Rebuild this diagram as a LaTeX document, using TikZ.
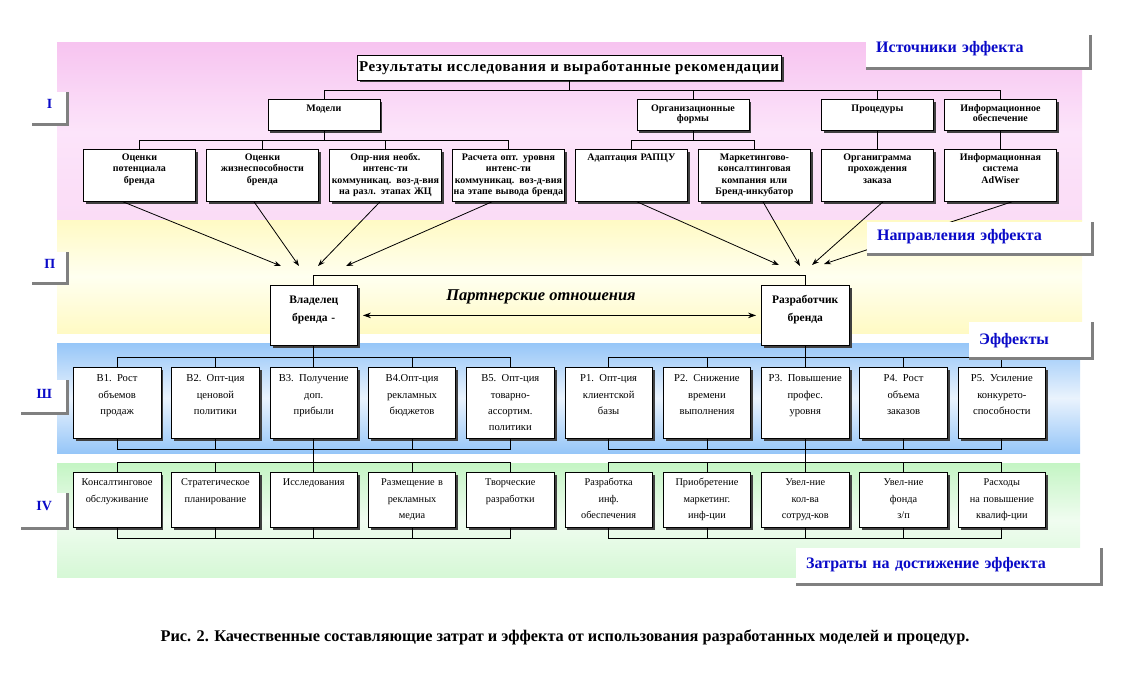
\documentclass[tikz,border=0pt]{standalone}
\usepackage{fontspec}
\setmainfont{Liberation Serif}
\usetikzlibrary{shadows,arrows.meta}
\definecolor{labblue}{RGB}{10,10,200}
\definecolor{pinkA}{RGB}{247,196,240}
\definecolor{pinkB}{RGB}{252,228,250}
\definecolor{yelA}{RGB}{255,250,196}
\definecolor{yelB}{RGB}{255,255,240}
\definecolor{bluA}{RGB}{150,198,248}
\definecolor{bluB}{RGB}{234,243,253}
\definecolor{grnA}{RGB}{196,245,196}
\definecolor{grnB}{RGB}{240,252,240}
\definecolor{shgray}{RGB}{128,128,128}
\tikzset{
  box/.style={draw=black, line width=0.8pt, fill=white,
    drop shadow={shadow xshift=2.5pt, shadow yshift=-2.5pt, fill=black!75, opacity=1},
    anchor=north west, inner xsep=-8pt, inner ysep=0pt, align=center},
  lvtwo/.style={box, text width=128pt, text height=12pt, text depth=19pt,
    font=\fontsize{10}{10.5}\selectfont\bfseries},
  lvthree/.style={box, text width=128pt, text height=11pt, text depth=41pt,
    font=\fontsize{10}{11.3}\selectfont\bfseries},
  actor/.style={box, text width=103.5pt, text height=18pt, text depth=42pt,
    font=\fontsize{11.5}{18}\selectfont\bfseries},
  eff/.style={box, text width=103.5pt, text height=14.5pt, text depth=56.5pt,
    font=\fontsize{10.6}{16.3}\selectfont},
  cost/.style={box, text width=103.5pt, text height=13.5pt, text depth=41.5pt,
    font=\fontsize{10.3}{16.5}\selectfont},
  link/.style={line width=0.8pt, black},
  arr/.style={line width=0.8pt, black, -{Stealth[length=7pt,width=5pt]}},
  dbl/.style={line width=0.8pt, black, {Stealth[length=8pt,width=5.5pt]}-{Stealth[length=8pt,width=5.5pt]}},
  rlab/.style={fill=white, anchor=north west, inner xsep=10pt, inner ysep=0pt,
    align=left, text=labblue, font=\fontsize{16}{18}\selectfont\bfseries},
  llab/.style={fill=white, anchor=north west, inner sep=0pt, align=center,
    text=labblue, font=\fontsize{14}{16}\selectfont\bfseries},
  labsh/.style={draw=shgray, line width=2.5pt}
}
\begin{document}
\begin{tikzpicture}[x=1pt,y=-1pt]
\useasboundingbox (0,0) rectangle (1122,685);
% bands
\path[top color=pinkA, bottom color=pinkA!60!white, middle color=pinkB] (57,43) rectangle (1082,220);
\path[top color=yelA, bottom color=yelA, middle color=yelB] (57,220) rectangle (1082,333);
\path[top color=bluA, bottom color=bluA, middle color=bluB] (57,343) rectangle (1080,453);
\path[top color=grnA, bottom color=grnA!70!white, middle color=grnB] (57,463) rectangle (1080,577);

% arrow targets
\coordinate (t1) at (281,266);
\coordinate (t2) at (299,266);
\coordinate (t3) at (318,266);
\coordinate (t4) at (346,266);
\coordinate (t5) at (779,265);
\coordinate (t6) at (800,266);
\coordinate (t7) at (812,265);
\coordinate (t8) at (824,264);

% title and level 2
\node[box, anchor=center, inner xsep=0pt, minimum width=424pt, minimum height=25pt, text height=11pt, text depth=3pt,
  font=\fontsize{15}{18}\selectfont\bfseries\addfontfeature{LetterSpace=4}] (title) at (569,67.5)
  {Результаты исследования и выработанные рекомендации};
\node[lvtwo] (m) at (267.5,99) {Модели};
\node[lvtwo] (org) at (636.5,99) {Организационные\\формы};
\node[lvtwo] (proc) at (821,99) {Процедуры};
\node[lvtwo] (inf) at (944,99) {Информационное\\обеспечение};

% level 3
\node[lvthree] (a1) at (83,149) {Оценки\\потенциала\\бренда};
\node[lvthree] (a2) at (206,149) {Оценки\\жизнеспособности\\бренда};
\node[lvthree] (a3) at (329,149) {Опр-ния необх.\\интенс-ти\\коммуникац. воз-д-вия\\на разл. этапах ЖЦ};
\node[lvthree] (a4) at (452,149) {Расчета опт. уровня\\интенс-ти\\коммуникац. воз-д-вия\\на этапе вывода бренда};
\node[lvthree] (a5) at (575,149) {Адаптация РАПЦУ};
\node[lvthree] (a6) at (698,149) {Маркетингово-\\консалтинговая\\компания или\\Бренд-инкубатор};
\node[lvthree] (a7) at (821,149) {Органиграмма\\прохождения\\заказа};
\node[lvthree] (a8) at (944,149) {Информационная\\система\\AdWiser};

% connectors top
\draw[link] (title.south) -- ++(0,10) coordinate (tj);
\draw[link] (m.north) -- (m.north |- tj) -- (inf.north |- tj) -- (inf.north);
\draw[link] (org.north) -- (org.north |- tj);
\draw[link] (proc.north) -- (proc.north |- tj);
\coordinate (j2) at (0,140);
\draw[link] (m.south) -- (m.south |- j2);
\draw[link] (a1.north) -- (a1.north |- j2) -- (a4.north |- j2) -- (a4.north);
\draw[link] (a2.north) -- (a2.north |- j2);
\draw[link] (a3.north) -- (a3.north |- j2);
\draw[link] (org.south) -- (org.south |- j2);
\draw[link] (a5.north) -- (a5.north |- j2) -- (a6.north |- j2) -- (a6.north);
\draw[link] (proc.south) -- (a7.north);
\draw[link] (inf.south) -- (a8.north);

% arrows
\draw[arr] ([xshift=40pt]a1.south west) -- (t1);
\draw[arr] ([xshift=48pt]a2.south west) -- (t2);
\draw[arr] ([xshift=51pt]a3.south west) -- (t3);
\draw[arr] ([xshift=40pt]a4.south west) -- (t4);
\draw[arr] ([xshift=62pt]a5.south west) -- (t5);
\draw[arr] ([xshift=65pt]a6.south west) -- (t6);
\draw[arr] ([xshift=62pt]a7.south west) -- (t7);
\draw[arr] ([xshift=68pt]a8.south west) -- (t8);

% actors
\node[actor] (vlad) at (269.6,285) {Владелец\\бренда -};
\node[actor] (razr) at (761.1,285) {Разработчик\\бренда};
\draw[link] (vlad.north) -- ++(0,-10) -| (razr.north);
\draw[dbl] ([xshift=5pt]vlad.east) -- ([xshift=-5pt]razr.west);
\node[font=\fontsize{16.5}{18}\selectfont\bfseries\itshape, inner sep=0pt] (partn) at (541,297) {Партнерские отношения};

% effects row
\node[eff] (b1) at (73,367) {В1. Рост\\объемов\\продаж};
\node[eff] (b2) at (171.3,367) {В2. Опт-ция\\ценовой\\политики};
\node[eff] (b3) at (269.6,367) {В3. Получение\\доп.\\прибыли};
\node[eff] (b4) at (367.9,367) {В4.Опт-ция\\рекламных\\бюджетов};
\node[eff] (b5) at (466.2,367) {В5. Опт-ция\\товарно-\\ассортим.\\политики};
\node[eff] (p1) at (564.5,367) {Р1. Опт-ция\\клиентской\\базы};
\node[eff] (p2) at (662.8,367) {Р2. Снижение\\времени\\выполнения};
\node[eff] (p3) at (761.1,367) {Р3. Повышение\\профес.\\уровня};
\node[eff] (p4) at (859.4,367) {Р4. Рост\\объема\\заказов};
\node[eff] (p5) at (957.7,367) {Р5. Усиление\\конкурето-\\способности};

% costs row
\node[cost] (c1) at (73,472) {Консалтинговое\\обслуживание};
\node[cost] (c2) at (171.3,472) {Стратегическое\\планирование};
\node[cost] (c3) at (269.6,472) {Исследования};
\node[cost] (c4) at (367.9,472) {Размещение в\\рекламных\\медиа};
\node[cost] (c5) at (466.2,472) {Творческие\\разработки};
\node[cost] (c6) at (564.5,472) {Разработка\\инф.\\обеспечения};
\node[cost] (c7) at (662.8,472) {Приобретение\\маркетинг.\\инф-ции};
\node[cost] (c8) at (761.1,472) {Увел-ние\\кол-ва\\сотруд-ков};
\node[cost] (c9) at (859.4,472) {Увел-ние\\фонда\\з/п};
\node[cost] (c10) at (957.7,472) {Расходы\\на повышение\\квалиф-ции};

% brackets rows III and IV
\coordinate (j3) at (0,357);
\coordinate (j4) at (0,449);
\coordinate (j5) at (0,462);
\coordinate (j6) at (0,538);
\draw[link] (vlad.south) -- (vlad.south |- j3);
\draw[link] (razr.south) -- (razr.south |- j3);
\draw[link] (b1.north) -- (b1.north |- j3) -- (b5.north |- j3) -- (b5.north);
\draw[link] (p1.north) -- (p1.north |- j3) -- (p5.north |- j3) -- (p5.north);
\draw[link] (b1.south) -- (b1.south |- j4) -- (b5.south |- j4) -- (b5.south);
\draw[link] (p1.south) -- (p1.south |- j4) -- (p5.south |- j4) -- (p5.south);
\foreach \n in {b2,b3,b4,p2,p3,p4} {
  \draw[link] (\n.north) -- (\n.north |- j3);
  \draw[link] (\n.south) -- (\n.south |- j4);
}
\draw[link] (b3.south |- j4) -- (c3.north |- j5);
\draw[link] (p3.south |- j4) -- (c8.north |- j5);
\draw[link] (c1.north) -- (c1.north |- j5) -- (c5.north |- j5) -- (c5.north);
\draw[link] (c6.north) -- (c6.north |- j5) -- (c10.north |- j5) -- (c10.north);
\draw[link] (c1.south) -- (c1.south |- j6) -- (c5.south |- j6) -- (c5.south);
\draw[link] (c6.south) -- (c6.south |- j6) -- (c10.south |- j6) -- (c10.south);
\foreach \n in {c2,c3,c4,c7,c8,c9} {
  \draw[link] (\n.north) -- (\n.north |- j5);
  \draw[link] (\n.south) -- (\n.south |- j6);
}

% right labels
\node[rlab, text width=204pt, text height=17pt, text depth=16pt] (r1) at (866,35) {Источники эффекта};
\node[rlab, text width=205pt, text height=18pt, text depth=14pt] (r2) at (867,222) {Направления эффекта};
\node[rlab, text width=103pt, text height=22pt, text depth=14pt] (r3) at (969,322) {Эффекты};
\node[rlab, text width=285pt, text height=20pt, text depth=16pt] (r4) at (796,548) {Затраты на достижение эффекта};
\foreach \n in {r1,r2,r3,r4} {
  \draw[labsh] (\n.north east) -- (\n.south east) -- (\n.south west);
}

% left labels
\node[llab, text width=35pt, text height=16pt, text depth=16pt] (l1) at (32,92) {I};
\node[llab, text width=35pt, text height=16pt, text depth=15pt] (l2) at (32,252) {П};
\node[llab, text width=46pt, text height=18pt, text depth=15pt] (l3) at (21,380) {Ш};
\node[llab, text width=46pt, text height=17pt, text depth=18pt] (l4) at (21,493) {IV};
\foreach \n in {l1,l2,l3,l4} {
  \draw[labsh] (\n.north east) -- (\n.south east) -- (\n.south west);
}

% caption
\node[font=\fontsize{16.3}{18}\selectfont\bfseries, inner sep=0pt] (cap) at (565,637)
  {Рис. 2. Качественные составляющие затрат и эффекта от использования разработанных моделей и процедур.};
\end{tikzpicture}
\end{document}
